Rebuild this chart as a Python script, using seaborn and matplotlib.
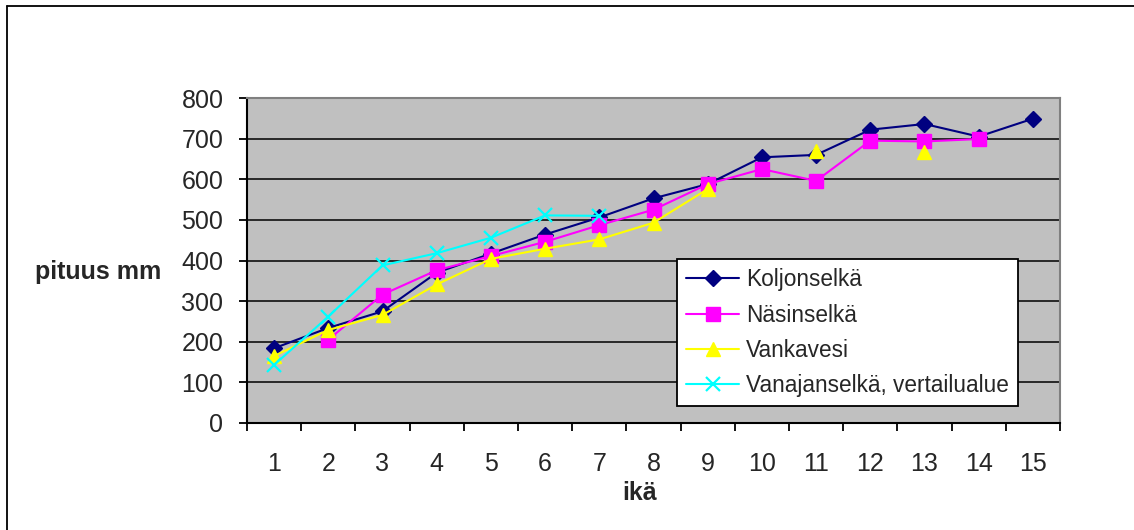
import numpy as np
import pandas as pd
import matplotlib
matplotlib.use("Agg")
import matplotlib.pyplot as plt
import seaborn as sns
from matplotlib.lines import Line2D
from matplotlib.ticker import FixedLocator, NullFormatter

# data (mm by age), nan = no value
ika = list(range(1, 16))
koljonselka = [184, 234, 275, 370, 417, 464, 506, 553, 588, 654, 660, 722, 736, 705, 749]
nasinselka = [np.nan, 205, 316, 376, 411, 446, 487, 525, 588, 625, 596, 695, 693, 699, np.nan]
vankavesi = [165, 229, 266, 341, 404, 429, 452, 493, 576, np.nan, 670, np.nan, 668, np.nan, np.nan]
vanajanselka = [143, 262, 388, 418, 456, 511, 510, np.nan, np.nan, np.nan, np.nan, np.nan, np.nan, np.nan, np.nan]

nimet = ['Koljonselkä', 'Näsinselkä', 'Vankavesi', 'Vanajanselkä, vertailualue']
sarjat = [koljonselka, nasinselka, vankavesi, vanajanselka]
varit = ['#000080', '#FF00FF', '#FFFF00', '#00FFFF']
merkit = ['D', 's', '^', 'x']
koot = [8, 10, 10, 10]

sns.set_style('white')
plt.rcParams['font.family'] = ['Liberation Sans', 'DejaVu Sans']

fig = plt.figure(figsize=(11.34, 5.30), dpi=100)
ax = fig.add_axes([247 / 1134, 1 - 423 / 530, (1060 - 247) / 1134, (423 - 98) / 530])
ax.set_facecolor('#C0C0C0')

for y in range(100, 800, 100):
    ax.axhline(y, color='black', lw=1.1, zorder=1)

handles = []
for nimi, arvot, vari, merkki, koko in zip(nimet, sarjat, varit, merkit, koot):
    df = pd.DataFrame({'ikä': ika, 'pituus': arvot})
    # split into runs so that gaps are not bridged
    df['osa'] = df['pituus'].isna().cumsum()
    df = df.dropna()
    mew = 1.6 if merkki == 'x' else 1
    sns.lineplot(data=df, x='ikä', y='pituus', units='osa', estimator=None,
                 color=vari, marker=merkki, markersize=koko, mec=vari, mfc=vari,
                 mew=mew, lw=1.5, ax=ax, zorder=3)
    handles.append(Line2D([], [], color=vari, marker=merkki, markersize=koko,
                          mec=vari, mfc=vari, mew=mew, lw=1.5, label=nimi))

ax.set_xlim(0.5, 15.5)
ax.set_ylim(0, 800)
ax.set_xticks(ika)
ax.set_xticklabels([str(i) for i in ika])
ax.xaxis.set_minor_locator(FixedLocator(np.arange(0.5, 16, 1)))
ax.xaxis.set_minor_formatter(NullFormatter())
ax.tick_params(axis='x', which='major', length=0, pad=21, labelsize=18)
ax.tick_params(axis='x', which='minor', length=6, width=1.3, direction='out', color='black', bottom=True)
ax.set_yticks(range(0, 801, 100))
ax.tick_params(axis='y', length=6, width=1.3, direction='out', color='black', left=True, pad=11, labelsize=18)
ax.set_xlabel('')
ax.set_ylabel('')

for s in ['left', 'bottom']:
    ax.spines[s].set_color('black')
    ax.spines[s].set_linewidth(1.5)
for s in ['top', 'right']:
    ax.spines[s].set_color('#808080')
    ax.spines[s].set_linewidth(1.5)

fig.text(98 / 1134, 1 - 272 / 530, 'pituus mm', fontsize=18, weight='bold', ha='center', va='center')
fig.text(640 / 1134, 1 - 493 / 530, 'ikä', fontsize=18, weight='bold', ha='center', va='center')

leg = fig.legend(handles=handles, loc='upper left', bbox_to_anchor=(677 / 1134, 1 - 259 / 530),
                 bbox_transform=fig.transFigure, frameon=True, fancybox=False, fontsize=16.3,
                 handlelength=2.35, handletextpad=0.3, labelspacing=0.55, borderpad=0.4,
                 borderaxespad=0)
leg.get_frame().set_edgecolor('black')
leg.get_frame().set_linewidth(1.3)
leg.get_frame().set_facecolor('white')
leg.get_frame().set_alpha(1)

# outer chart frame (top and left edges visible)
fig.add_artist(Line2D([7 / 1134, 7 / 1134], [0, 1 - 6 / 530], color='black', lw=1.3, transform=fig.transFigure))
fig.add_artist(Line2D([7 / 1134, 1], [1 - 6 / 530, 1 - 6 / 530], color='black', lw=1.3, transform=fig.transFigure))

fig.savefig('out.png', dpi=100, facecolor='white')
